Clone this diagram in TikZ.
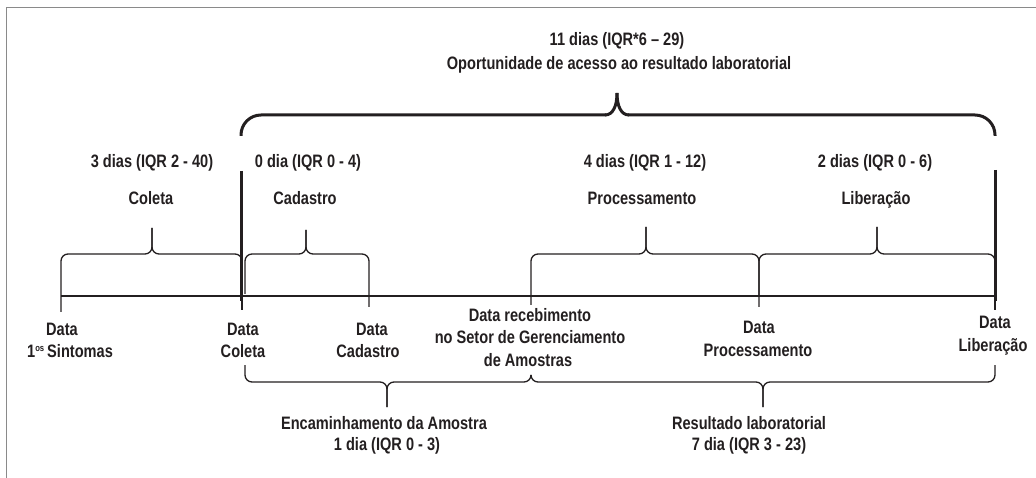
\documentclass[tikz,border=0pt]{standalone}
\usepackage{fontspec}
\setmainfont{Liberation Sans}[FakeStretch=0.81]
\definecolor{ink}{HTML}{231F20}
\definecolor{framec}{HTML}{8A8A8A}
\begin{document}
\begin{tikzpicture}[x=1pt,y=-1pt,
  lbl/.style={font=\fontsize{18}{20}\selectfont\bfseries, text=ink, inner sep=0pt, anchor=base},
  brc/.style={draw=ink, line width=1.3pt, rounded corners=7pt},
  bigbrc/.style={draw=ink, line width=3pt, rounded corners=20pt},
  thk/.style={draw=ink, line width=3pt},
  axl/.style={draw=ink, line width=1.2pt}]
\useasboundingbox (0,0) rectangle (1036,478);
% frame
\draw[framec, line width=1.5pt] (6.5,478) -- (6.5,7.5) -- (1036,7.5);

% timeline points
\coordinate (S) at (61,296);
\coordinate (C) at (242,296);
\coordinate (Ca) at (369,296);
\coordinate (R) at (531,296);
\coordinate (P) at (759,296);
\coordinate (L) at (995,296);

% axis
\draw[axl] (S) -- (L);
\draw[axl] (C) -- ++(0,14);
\draw[axl] (L) -- ++(0,14);

% upper small braces
\draw[brc] (61,312) -- (61,254) -- (152,254) -- (152,228);
\draw[brc] (242,296) -- (242,254) -- (152,254) -- (152,228);
\draw[brc] (245,294) -- (245,254) -- (306,254) -- (306,230);
\draw[brc] (369,307) -- (369,254) -- (306,254) -- (306,230);
\draw[brc] (531,305) -- (531,254) -- (646,254) -- (646,227);
\draw[brc] (759,307) -- (759,254) -- (646,254) -- (646,227);
\draw[brc] (759,296) -- (759,254) -- (877,254) -- (877,227);
\draw[brc] (995,296) -- (995,254) -- (877,254) -- (877,227);

% lower braces
\draw[brc] (245,365) -- (245,382) -- (387,382) -- (387,407);
\draw[brc] (531,376) -- (531,382) -- (387,382) -- (387,407);
\draw[brc] (531,376) -- (531,382) -- (763,382) -- (763,407);
\draw[brc] (995,365) -- (995,382) -- (763,382) -- (763,407);

% thick lines
\draw[thk] (241,171) -- (241,301);
\draw[thk] (995,170) -- (995,301);

% big brace
\draw[bigbrc] (241,136) -- (241,115) -- (606,115);
\draw[bigbrc] (995,136) -- (995,115) -- (628,115);
\draw[thk] (605,115) .. controls (613,115) and (617,106) .. (617,93);
\draw[thk] (629,115) .. controls (621,115) and (617,106) .. (617,93);

% top labels
\node[lbl] (t1) at (617,46) {11 dias (IQR*6 -- 29)};
\node[lbl] (t2) at (619,70) {Oportunidade de acesso ao resultado laboratorial};

\node[lbl] (c1) at (152,168) {3 dias (IQR 2 - 40)};
\node[lbl] (c2) at (151,205) {Coleta};
\node[lbl] (d1) at (308,168) {0 dia (IQR 0 - 4)};
\node[lbl] (d2) at (305,205) {Cadastro};
\node[lbl] (p1) at (645,168) {4 dias (IQR 1 - 12)};
\node[lbl] (p2) at (642,205) {Processamento};
\node[lbl] (l1) at (875,168) {2 dias (IQR 0 - 6)};
\node[lbl] (l2) at (876,205) {Liberação};

% axis labels
\node[lbl] (sa) at (62,335) {Data};
\node[lbl] (sb) at (70,357) {1\raisebox{0.55ex}{\fontsize{9.5}{9.5}\selectfont os}\,Sintomas};
\node[lbl] (ca) at (243,335) {Data};
\node[lbl] (cb) at (243,357) {Coleta};
\node[lbl] (da) at (372,335) {Data};
\node[lbl] (db) at (368,357) {Cadastro};
\node[lbl] (ra) at (530,321) {Data recebimento};
\node[lbl] (rb) at (530,343.5) {no Setor de Gerenciamento};
\node[lbl] (rc) at (528,366) {de Amostras};
\node[lbl] (pa) at (759,333.5) {Data};
\node[lbl] (pb) at (758,356) {Processamento};
\node[lbl] (la) at (995,328.5) {Data};
\node[lbl] (lb) at (993,351) {Liberação};

% bottom labels
\node[lbl] (ea) at (384,429.5) {Encaminhamento da Amostra};
\node[lbl] (eb) at (387,450.5) {1 dia (IQR 0 - 3)};
\node[lbl] (xa) at (749,429.5) {Resultado laboratorial};
\node[lbl] (xb) at (749,450.5) {7 dia (IQR 3 - 23)};
\end{tikzpicture}
\end{document}
